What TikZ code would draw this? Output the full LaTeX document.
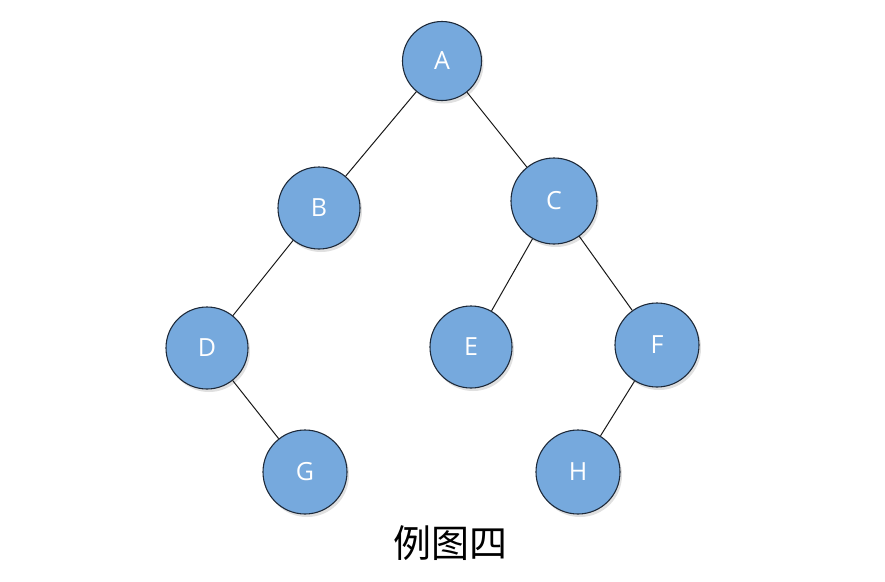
\documentclass[tikz,border=0pt]{standalone}
\usepackage{fontspec}
\setmainfont{Open Sans}
\newfontfamily\cjk{Noto Sans CJK SC}
\definecolor{nodefill}{HTML}{76A9DD}
\definecolor{nodeline}{HTML}{1E2A3A}
\begin{document}
\begin{tikzpicture}[x=1pt,y=-1pt,
  tnode/.style={circle,draw=nodeline,line width=1.1pt,fill=nodefill,text=white,
     inner sep=0pt,font=\fontsize{25}{29}\selectfont},
  edge/.style={draw=black!90,line width=1pt}]
\useasboundingbox (0,0) rectangle (885,581);
\fill[white] (0,0) rectangle (885,581);
\def\shadow#1#2#3{\fill[black!12] (#1+2,#2+3) circle (#3);}
\shadow{442}{61}{39.5}
\shadow{319}{208}{41}
\shadow{554}{201}{43}
\shadow{207}{348}{41}
\shadow{471}{347}{41}
\shadow{657}{345}{42}
\shadow{305}{472}{42}
\shadow{578}{472}{42}
\node[tnode,minimum size=79pt] (A) at (442,61) {A};
\node[tnode,minimum size=82pt] (B) at (319,208) {B};
\node[tnode,minimum size=86pt] (C) at (554,201) {C};
\node[tnode,minimum size=82pt] (D) at (207,348) {D};
\node[tnode,minimum size=82pt] (E) at (471,347) {E};
\node[tnode,minimum size=84pt] (F) at (657,345) {F};
\node[tnode,minimum size=84pt] (G) at (305,472) {G};
\node[tnode,minimum size=84pt] (H) at (578,472) {H};
\draw[edge] (A) -- (B);
\draw[edge] (A) -- (C);
\draw[edge] (B) -- (D);
\draw[edge] (D) -- (G);
\draw[edge] (C) -- (E);
\draw[edge] (C) -- (F);
\draw[edge] (F) -- (H);
\node[font=\cjk\fontsize{38}{42}\selectfont,text=black] (cap) at (450,543) {例图四};
\end{tikzpicture}
\end{document}
